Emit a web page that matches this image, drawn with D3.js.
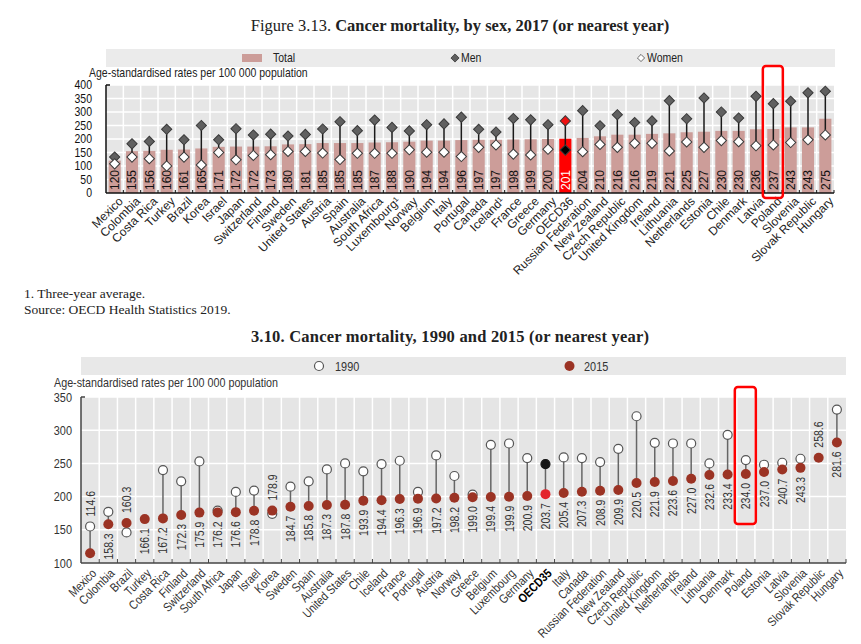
<!DOCTYPE html>
<html>
<head>
<meta charset="utf-8">
<script src="https://cdn.jsdelivr.net/npm/d3@7"></script>
<style>
body { margin: 0; background: #fff; }
svg text { font-family: 'Liberation Sans', Arial, sans-serif; }
svg text.serif { font-family: 'Liberation Serif', 'Times New Roman', serif; }
</style>
</head>
<body>
<svg id="chart" width="861" height="644"></svg>
<script>
// Figure 3.13 - by sex, 2017
var countries1 = ["Mexico", "Colombia", "Costa Rica", "Turkey", "Brazil", "Korea", "Israel", "Japan", "Switzerland", "Finland",
    "Sweden", "United States", "Austria", "Spain", "Australia", "South Africa", "Luxembourg¹", "Norway", "Belgium", "Italy",
    "Portugal", "Canada", "Iceland¹", "France", "Greece", "Germany", "OECD36", "Russian Federation", "New Zealand", "Czech Republic",
    "United Kingdom", "Ireland", "Lithuania", "Netherlands", "Estonia", "Chile", "Denmark", "Latvia", "Poland", "Slovenia",
    "Slovak Republic", "Hungary"];
var total1 = [120, 155, 156, 160, 161, 165, 171, 172, 172, 173, 180, 181, 185, 185, 185, 187, 188, 190, 194, 194,
    196, 197, 197, 198, 199, 200, 201, 204, 210, 216, 216, 219, 221, 225, 227, 230, 230, 236, 237, 243, 243, 275];
var men1 = [133, 182, 191, 236, 197, 250, 197, 238, 215, 218, 211, 217, 237, 264, 231, 270, 243, 230, 253, 256,
    281, 236, 226, 276, 271, 253, 267, 305, 249, 290, 261, 267, 342, 275, 352, 300, 278, 358, 331, 340, 371, 377];
var women1 = [108, 133, 127, 100, 133, 104, 150, 123, 139, 142, 154, 154, 148, 124, 147, 147, 147, 160, 151, 151,
    135, 169, 178, 144, 141, 162, 159, 153, 180, 169, 184, 184, 156, 189, 169, 194, 190, 175, 178, 187, 197, 215];
var yTicks1 = [0, 50, 100, 150, 200, 250, 300, 350, 400];

// Figure 3.10 - 1990 and 2015
var countries2 = ["Mexico", "Colombia", "Brazil", "Turkey", "Costa Rica", "Finland", "Switzerland", "South Africa", "Japan", "Israel",
    "Korea", "Sweden", "Spain", "Australia", "United States", "Chile", "Iceland", "France", "Portugal", "Austria",
    "Norway", "Greece", "Belgium", "Luxembourg", "Germany", "OECD35", "Italy", "Canada", "Russian Federation", "New Zealand",
    "Czech Republic", "United Kingdom", "Netherlands", "Ireland", "Lithuania", "Denmark", "Poland", "Estonia", "Latvia", "Slovenia",
    "Slovak Republic", "Hungary"];
var v2015 = [114.6, 158.3, 160.3, 166.1, 167.2, 172.3, 175.9, 176.2, 176.6, 178.8, 178.9, 184.7, 185.8, 187.3, 187.8, 193.9,
    194.4, 196.3, 196.9, 197.2, 198.2, 199.0, 199.4, 199.9, 200.9, 203.7, 205.4, 207.3, 208.9, 209.9, 220.5, 221.9,
    223.6, 227.0, 232.6, 233.4, 234.0, 237.0, 240.7, 243.3, 258.6, 281.6];
var v1990 = [155, 177, 146, null, 240, 223, 253, 179, 207, 209, 174, 215, 223, 241, 250, 238, 249, 254, 207, 262,
    231, 203, 278, 280, 258, 249, 259, 258, 252, 272, 321, 281, 280, 280, 250, 293, 255, 248, 251, 257, null, 331];
var labelAbove = ["Mexico", "Brazil", "Korea", "Slovak Republic"];
var yTicks2 = [100, 150, 200, 250, 300, 350];

var svg = d3.select("#chart");
var diamond = d3.symbol().type(d3.symbolSquare).size(52);
// no narrow font installed, so squeeze the sans horizontally
var sq = " scale(0.84,1)";

function label(parent, x, y, txt, size, color){
    return parent.append("text")
        .attr("transform", "translate(" + x + "," + y + ")" + sq)
        .attr("dy", "0.35em")
        .style("font-size", size + "px").style("fill", color || "#222")
        .text(txt);
}

// ---------- top chart ----------
svg.append("text").attr("class", "serif")
    .attr("x", 460).attr("y", 31)
    .attr("text-anchor", "middle")
    .style("font-size", "16.5px").style("fill", "#222")
    .call(function(t){
        t.append("tspan").text("Figure 3.13. ");
        t.append("tspan").style("font-weight", "bold").text("Cancer mortality, by sex, 2017 (or nearest year)");
    });

var x1 = d3.scaleBand().domain(countries1).range([106, 834]).paddingInner(0.3).paddingOuter(0.15);
var y1 = d3.scaleLinear().domain([0, 400]).range([193, 85]);
var cx1 = function(c){ return x1(c) + x1.bandwidth() / 2; };
var barColor = "#cc9d99";

// legend
svg.append("rect").attr("x", 106).attr("y", 49).attr("width", 729).attr("height", 18).style("fill", "#ebebeb");
svg.append("rect").attr("x", 242).attr("y", 54).attr("width", 20).attr("height", 8).style("fill", barColor);
label(svg, 273, 58, "Total", 12.5);
svg.append("path").attr("d", diamond).attr("transform", "translate(455,58) rotate(45) scale(0.8)")
    .style("fill", "#5f5f5f").style("stroke", "#3a3a3a");
label(svg, 461, 58, "Men", 12.5);
svg.append("path").attr("d", diamond).attr("transform", "translate(641,58) rotate(45) scale(0.7)")
    .style("fill", "#fff").style("stroke", "#3a3a3a");
label(svg, 647, 58, "Women", 12.5);

label(svg, 89, 73, "Age-standardised rates per 100 000 population", 12.5);

var g1 = svg.append("g");
g1.append("rect").attr("x", 106).attr("y", y1(400)).attr("width", 728).attr("height", y1(0) - y1(400)).style("fill", "#e6e6e6");

g1.selectAll(".hgrid").data(yTicks1.slice(1)).enter().append("line")
    .attr("x1", 106).attr("x2", 834)
    .attr("y1", function(d){ return y1(d); }).attr("y2", function(d){ return y1(d); })
    .style("stroke", "#fff").style("stroke-width", 1.5);

var edges1 = countries1.map(function(c){ return x1(c) - x1.step() * 0.15; }).concat([834]);
g1.selectAll(".vgrid").data(edges1.slice(1, -1)).enter().append("line")
    .attr("x1", function(d){ return d; }).attr("x2", function(d){ return d; })
    .attr("y1", y1(400)).attr("y2", y1(0))
    .style("stroke", "#fff").style("stroke-width", 1.5);

g1.selectAll(".bar").data(countries1).enter().append("rect")
    .attr("x", function(d){ return x1(d); })
    .attr("width", x1.bandwidth())
    .attr("y", function(d, i){ return y1(total1[i]); })
    .attr("height", function(d, i){ return y1(0) - y1(total1[i]); })
    .style("fill", function(d){ return d == "OECD36" ? "#ff0000" : barColor; });

g1.selectAll(".barlab").data(countries1).enter().append("text")
    .attr("transform", function(d){ return "translate(" + cx1(d) + ",190) rotate(-90)"; })
    .attr("dy", "0.36em")
    .style("font-size", "12px")
    .style("fill", function(d){ return d == "OECD36" ? "#fff" : "#111"; })
    .text(function(d, i){ return total1[i]; });

g1.selectAll(".stem").data(countries1).enter().append("line")
    .attr("x1", cx1).attr("x2", cx1)
    .attr("y1", function(d, i){ return y1(men1[i]); })
    .attr("y2", function(d, i){ return y1(women1[i]); })
    .style("stroke", "#1a1a1a").style("stroke-width", 1.5);

g1.selectAll(".men").data(countries1).enter().append("path")
    .attr("d", diamond)
    .attr("transform", function(d, i){ return "translate(" + cx1(d) + "," + y1(men1[i]) + ") rotate(45)"; })
    .style("fill", function(d){ return d == "OECD36" ? "#ee1111" : "#606060"; })
    .style("stroke", "#3a3a3a");

g1.selectAll(".women").data(countries1).enter().append("path")
    .attr("d", diamond)
    .attr("transform", function(d, i){ return "translate(" + cx1(d) + "," + y1(women1[i]) + ") rotate(45)"; })
    .style("fill", function(d){ return d == "OECD36" ? "#000" : "#fff"; })
    .style("stroke", "#3a3a3a");

// axes
g1.append("line").attr("x1", 106).attr("x2", 106).attr("y1", y1(400)).attr("y2", y1(0))
    .style("stroke", "#111").style("stroke-width", 1.5);
g1.append("line").attr("x1", 106).attr("x2", 110).attr("y1", y1(400)).attr("y2", y1(400))
    .style("stroke", "#111").style("stroke-width", 1.5);
g1.append("line").attr("x1", 106).attr("x2", 834).attr("y1", y1(0)).attr("y2", y1(0))
    .style("stroke", "#111").style("stroke-width", 1.5);
g1.selectAll(".xtick").data(edges1.slice(1)).enter().append("line")
    .attr("x1", function(d){ return d; }).attr("x2", function(d){ return d; })
    .attr("y1", y1(0)).attr("y2", y1(0) - 3)
    .style("stroke", "#111");

g1.selectAll(".ylab").data(yTicks1).enter().append("text")
    .attr("transform", function(d){ return "translate(92," + y1(d) + ")" + sq; })
    .attr("dy", "0.35em").attr("text-anchor", "end")
    .style("font-size", "12.5px").style("fill", "#111")
    .text(function(d){ return d; });

g1.selectAll(".xlab").data(countries1).enter().append("text")
    .attr("transform", function(d){ return "translate(" + (cx1(d) + 6) + ",199) rotate(-45)"; })
    .attr("text-anchor", "end").attr("dy", "0.35em")
    .style("font-size", "12px").style("fill", "#222")
    .text(function(d){ return d; });

// highlight Poland
g1.append("rect")
    .attr("x", cx1("Poland") - 10.5).attr("y", 66)
    .attr("width", 20).attr("height", 132)
    .attr("rx", 3)
    .style("fill", "none").style("stroke", "#f00").style("stroke-width", 2.5);

// notes
svg.append("text").attr("class", "serif").attr("x", 24).attr("y", 298)
    .style("font-size", "13.5px").style("fill", "#222").text("1. Three-year average.");
svg.append("text").attr("class", "serif").attr("x", 24).attr("y", 314)
    .style("font-size", "13.5px").style("fill", "#222").text("Source: OECD Health Statistics 2019.");

// ---------- bottom chart ----------
svg.append("text").attr("class", "serif")
    .attr("x", 450).attr("y", 342)
    .attr("text-anchor", "middle")
    .style("font-size", "16.5px").style("font-weight", "bold").style("fill", "#222")
    .style("letter-spacing", "0.2px")
    .text("3.10. Cancer mortality, 1990 and 2015 (or nearest year)");

var x2 = d3.scaleBand().domain(countries2).range([81, 846]);
var y2 = d3.scaleLinear().domain([100, 350]).range([563, 397]);
var cx2 = function(c){ return x2(c) + x2.bandwidth() / 2; };
var dot2015 = "#9b3324";

svg.append("rect").attr("x", 81).attr("y", 357).attr("width", 765).attr("height", 18).style("fill", "#e8e8e8");
svg.append("circle").attr("cx", 319).attr("cy", 366).attr("r", 4.5)
    .style("fill", "#fff").style("stroke", "#555").style("stroke-width", 1.2);
label(svg, 335, 366, "1990", 13, "#333");
svg.append("circle").attr("cx", 569.5).attr("cy", 366).attr("r", 5).style("fill", dot2015);
label(svg, 584, 366, "2015", 13, "#333");

label(svg, 54, 382.5, "Age-standardised rates per 100 000 population", 12.8, "#333");

var g2 = svg.append("g");
g2.append("rect").attr("x", 81).attr("y", y2(350)).attr("width", 765).attr("height", y2(100) - y2(350)).style("fill", "#e5e5e5");

g2.selectAll(".hgrid").data(yTicks2.slice(1)).enter().append("line")
    .attr("x1", 81).attr("x2", 846)
    .attr("y1", function(d){ return y2(d); }).attr("y2", function(d){ return y2(d); })
    .style("stroke", "#fff").style("stroke-width", 1.5);

var edges2 = countries2.map(function(c){ return x2(c); }).concat([846]);
g2.selectAll(".vgrid").data(edges2.slice(1, -1)).enter().append("line")
    .attr("x1", function(d){ return d; }).attr("x2", function(d){ return d; })
    .attr("y1", y2(350)).attr("y2", y2(100))
    .style("stroke", "#fff").style("stroke-width", 1.5);

var withOld = countries2.filter(function(d, i){ return v1990[i] != null; });

g2.selectAll(".stem").data(withOld).enter().append("line")
    .attr("x1", cx2).attr("x2", cx2)
    .attr("y1", function(d){ return y2(v1990[countries2.indexOf(d)]); })
    .attr("y2", function(d){ return y2(v2015[countries2.indexOf(d)]); })
    .style("stroke", "#666").style("stroke-width", 1.5);

g2.selectAll(".old").data(withOld).enter().append("circle")
    .attr("cx", cx2)
    .attr("cy", function(d){ return y2(v1990[countries2.indexOf(d)]); })
    .attr("r", 4.5)
    .style("fill", function(d){ return d == "OECD35" ? "#151515" : "#fff"; })
    .style("stroke", function(d){ return d == "OECD35" ? "#151515" : "#555"; })
    .style("stroke-width", 1.2);

g2.selectAll(".new").data(countries2).enter().append("circle")
    .attr("cx", cx2)
    .attr("cy", function(d, i){ return y2(v2015[i]); })
    .attr("r", 5)
    .style("fill", function(d){ return d == "OECD35" ? "#e3242b" : dot2015; });

g2.selectAll(".vlab").data(countries2).enter().append("text")
    .attr("transform", function(d, i){
        var lo = v1990[i] == null ? v2015[i] : Math.min(v1990[i], v2015[i]);
        var hi = v1990[i] == null ? v2015[i] : Math.max(v1990[i], v2015[i]);
        if(labelAbove.indexOf(d) >= 0)
            return "translate(" + cx2(d) + "," + (y2(hi) - 10) + ") rotate(-90)" + sq;
        return "translate(" + cx2(d) + "," + (y2(lo) + 9) + ") rotate(-90)" + sq;
    })
    .attr("text-anchor", function(d){ return labelAbove.indexOf(d) >= 0 ? "start" : "end"; })
    .attr("dy", "0.36em")
    .style("font-size", "12.5px").style("fill", "#333")
    .text(function(d, i){ return v2015[i].toFixed(1); });

// axes
g2.append("line").attr("x1", 81).attr("x2", 81).attr("y1", y2(350)).attr("y2", y2(100))
    .style("stroke", "#444").style("stroke-width", 1.5);
g2.append("line").attr("x1", 81).attr("x2", 85).attr("y1", y2(350)).attr("y2", y2(350))
    .style("stroke", "#444").style("stroke-width", 1.5);
g2.append("line").attr("x1", 81).attr("x2", 846).attr("y1", y2(100)).attr("y2", y2(100))
    .style("stroke", "#444").style("stroke-width", 1.5);
g2.selectAll(".xtick").data(edges2.slice(1)).enter().append("line")
    .attr("x1", function(d){ return d; }).attr("x2", function(d){ return d; })
    .attr("y1", y2(100)).attr("y2", y2(100) - 4)
    .style("stroke", "#444");

g2.selectAll(".ylab").data(yTicks2).enter().append("text")
    .attr("transform", function(d){ return "translate(72," + y2(d) + ")" + sq; })
    .attr("dy", "0.35em").attr("text-anchor", "end")
    .style("font-size", "13px").style("fill", "#333")
    .text(function(d){ return d; });

g2.selectAll(".xlab").data(countries2).enter().append("text")
    .attr("transform", function(d){ return "translate(" + (cx2(d) + 4) + ",571) rotate(-45)" + sq; })
    .attr("text-anchor", "end").attr("dy", "0.35em")
    .style("font-size", "12.5px")
    .style("font-weight", function(d){ return d == "OECD35" ? "bold" : "normal"; })
    .style("fill", function(d){ return d == "OECD35" ? "#000" : "#333"; })
    .text(function(d){ return d; });

g2.append("rect")
    .attr("x", cx2("Poland") - 11).attr("y", 387)
    .attr("width", 21).attr("height", 137)
    .attr("rx", 3)
    .style("fill", "none").style("stroke", "#f00").style("stroke-width", 2.5);
</script>
</body>
</html>
